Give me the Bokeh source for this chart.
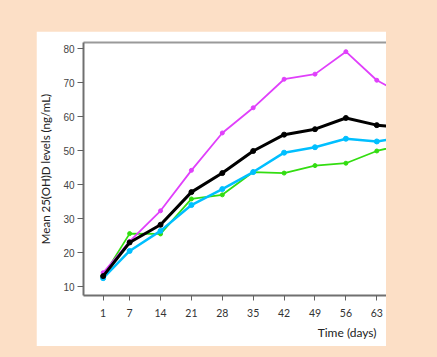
from bokeh.plotting import figure
from bokeh.models import FixedTicker, LinearAxis, Title, Range1d
from bokeh.embed import file_html
from bokeh.resources import INLINE

# Data
days = [1, 7, 14, 21, 28, 35, 42, 49, 56, 63, 70]
magenta = [14.2, 23.4, 32.4, 44.3, 55.3, 62.7, 71.1, 72.6, 79.2, 70.8, 65.8]
black = [13.2, 23.1, 28.3, 37.9, 43.5, 50.0, 54.8, 56.4, 59.7, 57.6, 56.7]
cyan = [12.6, 20.6, 26.5, 34.1, 38.8, 43.8, 49.5, 51.1, 53.6, 52.8, 54.3]
green = [13.2, 25.7, 25.6, 35.9, 37.1, 43.8, 43.5, 45.7, 46.4, 50.0, 52.2]
x_ticks = [1, 7, 14, 21, 28, 35, 42, 49, 56, 63]
y_ticks = [10, 20, 30, 40, 50, 60, 70, 80]

PEACH = "#fcdfc6"

p = figure(width=350, height=315, output_backend="svg", toolbar_location=None,
           x_range=Range1d(-3.45, 65.2), y_range=Range1d(7.5, 81.9),
           min_border_left=46, min_border_right=0, min_border_top=11, min_border_bottom=51,
           background_fill_color="white", border_fill_color="white",
           outline_line_color=None)
p.margin = (31, 0, 0, 36)
p.xgrid.visible = False
p.ygrid.visible = False

series = [(green, "#33dd11", 1.8, 4),
          (magenta, "#e040fb", 1.8, 4),
          (cyan, "#00bfff", 2.5, 5),
          (black, "#000000", 3.0, 5)]
for vals, col, lw, ms in series:
    p.line(days, vals, line_color=col, line_width=lw)
    p.scatter(days, vals, marker="circle", size=ms, fill_color=col, line_color=col)

# axes styling
xa = p.xaxis[0]
xa.ticker = FixedTicker(ticks=x_ticks)
xa.axis_line_color = "#707070"
xa.axis_line_width = 2
xa.major_tick_line_color = "#606060"
xa.major_tick_in = 0
xa.major_tick_out = 5
xa.minor_tick_line_color = None
xa.major_label_text_font = "Lato"
xa.major_label_text_font_size = "10.5px"
xa.major_label_text_color = "#333333"
xa.major_label_standoff = 8

ya = p.yaxis[0]
ya.ticker = FixedTicker(ticks=y_ticks)
ya.axis_line_color = "#707070"
ya.axis_line_width = 2
ya.major_tick_line_color = "#606060"
ya.major_tick_in = 0
ya.major_tick_out = 6
ya.minor_tick_line_color = None
ya.major_label_text_font = "Liberation Sans"
ya.major_label_text_font_size = "10px"
ya.major_label_text_color = "#444444"
ya.major_label_standoff = 3
ya.axis_label = "Mean 25(OH)D levels (ng/mL)"
ya.axis_label_text_font = "Lato"
ya.axis_label_text_font_style = "normal"
ya.axis_label_text_font_size = "11.5px"
ya.axis_label_text_color = "#222222"
ya.axis_label_standoff = 8

top = LinearAxis(ticker=FixedTicker(ticks=[]), axis_line_color="#9a9a9a", axis_line_width=2,
                 major_tick_line_color=None, minor_tick_line_color=None,
                 major_label_text_font_size="0px")
p.add_layout(top, "above")

p.add_layout(Title(text="Time (days)", align="right", offset=10, standoff=6,
                   text_font="Lato", text_font_size="12px", text_font_style="normal",
                   text_color="#222222"), "below")

html = file_html(p, INLINE)
html = html.replace("</head>", "<style>html,body{background:%s;}</style></head>" % PEACH, 1)
open("out.html", "w").write(html)
